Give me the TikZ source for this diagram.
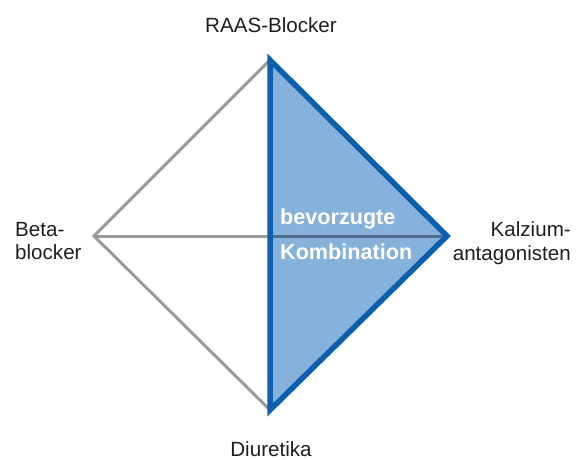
\documentclass[tikz,border=0pt]{standalone}
\usepackage{fontspec}
\setmainfont{Liberation Sans}
\definecolor{edgegray}{HTML}{9A9A9A}
\definecolor{edgeblue}{HTML}{0A5FAE}
\definecolor{areablue}{HTML}{86B1DA}
\definecolor{midline}{HTML}{4F6D8C}
\definecolor{labeltext}{HTML}{1E1E1E}
\begin{document}
\begin{tikzpicture}[x=1pt,y=-1pt,
  greyedge/.style={draw=edgegray,line width=3pt},
  blueedge/.style={draw=edgeblue,line width=5.5pt,line join=miter,line cap=round},
  drug/.style={font=\fontsize{20.6}{23.5}\selectfont,text=labeltext,inner sep=0pt},
  combo/.style={font=\bfseries\fontsize{21.6}{26}\selectfont,text=white,inner sep=0pt,anchor=base west}]
\useasboundingbox (0,0) rectangle (587,459);
% corners of the diamond
\coordinate (raas) at (270,60);
\coordinate (beta) at (94,236);
\coordinate (kalz) at (447,236);
\coordinate (diur) at (270,410);
% grey edges of the left half
\draw[greyedge] (raas) -- (beta) -- (diur);
% shaded preferred triangle
\fill[areablue] (raas) -- (kalz) -- (diur) -- cycle;
% horizontal axis
\draw[greyedge] (beta) -- (raas |- beta);
\draw[draw=midline,line width=3pt] (raas |- beta) -- (kalz);
% blue outline of the preferred combination
\draw[blueedge] (raas) -- (kalz) -- (diur) -- cycle;
% labels
\node[drug,anchor=base] (t1) at (271,32) {RAAS-Blocker};
\node[drug,anchor=base] (t4) at (271,456) {Diuretika};
\node[drug,align=left,anchor=west] (t2) at (15,241) {Beta-\\blocker};
\node[drug,align=right,anchor=east] (t3) at (571,243) {Kalzium-\\antagonisten};
\node[combo] (c1) at (280,224) {bevorzugte};
\node[combo] (c2) at (280,259) {Kombination};
\end{tikzpicture}
\end{document}
